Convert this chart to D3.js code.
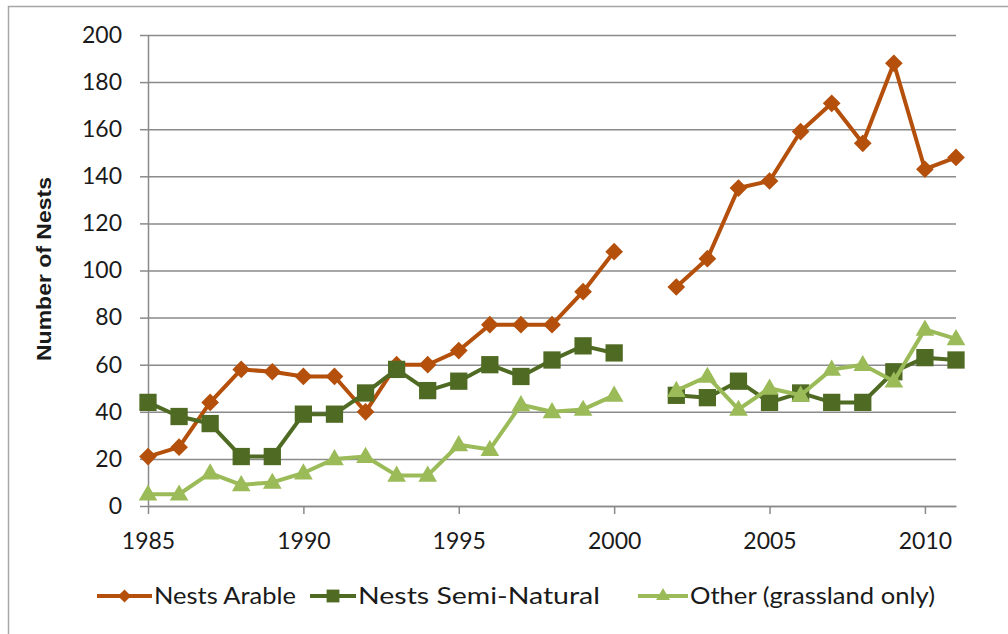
<!DOCTYPE html>
<html>
<head>
<meta charset="utf-8">
<script src="https://cdn.jsdelivr.net/npm/d3@7"></script>
<style>
  html, body { margin: 0; padding: 0; background: #fff; }
  svg { display: block; }
</style>
</head>
<body>
<svg id="chart" width="1008" height="634"></svg>
<script>
const years = [1985,1986,1987,1988,1989,1990,1991,1992,1993,1994,1995,1996,1997,1998,1999,2000,2001,2002,2003,2004,2005,2006,2007,2008,2009,2010,2011];
const nestsArable = [21,25,44,58,57,55,55,40,60,60,66,77,77,77,91,108,null,93,105,135,138,159,171,154,188,143,148];
const nestsSemiNatural = [44,38,35,21,21,39,39,48,58,49,53,60,55,62,68,65,null,47,46,53,44,48,44,44,57,63,62];
const otherGrassland = [5,5,14,9,10,14,20,21,13,13,26,24,43,40,41,47,null,49,55,41,50,47,58,60,53,75,71];
const seriesNames = ["Nests Arable", "Nests Semi-Natural", "Other (grassland only)"];
const yTicks = [0,20,40,60,80,100,120,140,160,180,200];
const xTicks = [1985,1990,1995,2000,2005,2010];
const yTitle = "Number of Nests";

const colors = ["#B4500B", "#4F6A23", "#9BBB59"];
const symbols = [d3.symbolDiamond2, d3.symbolSquare2, d3.symbolTriangle2];
const symSizes = [200, 380, 250];

const svg = d3.select("#chart");
const plotLeft = 148, plotRight = 956, plotTop = 35, plotBottom = 506;
const x = d3.scaleLinear().domain([1985, 2011]).range([plotLeft, plotRight]);
const y = d3.scaleLinear().domain([0, 200]).range([plotBottom, plotTop]);
const axisColor = "#8a8a8a";
const textFont = "Lato, 'Open Sans', sans-serif";

// outer frame
svg.append("rect").attr("x", 8.5).attr("y", 6.5).attr("width", 1010).attr("height", 640)
  .attr("fill", "#fff").attr("stroke", "#a6a6a6").attr("stroke-width", 1.5);

// gridlines
const grid = svg.append("g").attr("transform", `translate(${plotLeft},0)`)
  .call(d3.axisLeft(y).tickValues(yTicks).tickSize(-(plotRight - plotLeft)).tickFormat(""));
grid.select(".domain").remove();
grid.selectAll("line").attr("stroke", axisColor).attr("stroke-width", 1.5);

// y axis
const yAxis = svg.append("g").attr("transform", `translate(${plotLeft},0)`)
  .call(d3.axisLeft(y).tickValues(yTicks).tickSize(8).tickSizeOuter(0).tickPadding(18));
yAxis.select(".domain").attr("stroke", axisColor).attr("stroke-width", 1.5);
yAxis.selectAll("line").attr("stroke", axisColor).attr("stroke-width", 1.5);
yAxis.selectAll("text").attr("font-family", textFont).attr("font-size", 23).attr("fill", "#1a1a1a");

// x axis
const xAxis = svg.append("g").attr("transform", `translate(0,${plotBottom})`)
  .call(d3.axisBottom(x).tickValues(xTicks).tickSize(8).tickSizeOuter(0).tickPadding(19).tickFormat(d3.format("d")));
xAxis.select(".domain").attr("stroke", axisColor).attr("stroke-width", 1.5);
xAxis.selectAll("line").attr("stroke", axisColor).attr("stroke-width", 1.5);
xAxis.selectAll("text").attr("font-family", textFont).attr("font-size", 23).attr("fill", "#1a1a1a");

// y title
svg.append("text")
  .attr("transform", "translate(51,269) rotate(-90)")
  .attr("text-anchor", "middle")
  .attr("font-family", "'Liberation Sans', Arial, sans-serif")
  .attr("font-weight", "bold").attr("font-size", 21)
  .attr("textLength", 184).attr("lengthAdjust", "spacingAndGlyphs")
  .attr("fill", "#1a1a1a")
  .text(yTitle);

// series
const allSeries = [nestsArable, nestsSemiNatural, otherGrassland];
allSeries.forEach((vals, i) => {
  const pts = years.map((yr, k) => ({ yr, v: vals[k] }));
  const line = d3.line().defined(d => d.v !== null).x(d => x(d.yr)).y(d => y(d.v));
  const g = svg.append("g");
  g.append("path").datum(pts).attr("d", line)
    .attr("fill", "none").attr("stroke", colors[i]).attr("stroke-width", 4).attr("stroke-linejoin", "round");
  g.selectAll("path.m").data(pts.filter(d => d.v !== null)).join("path").attr("class", "m")
    .attr("transform", d => `translate(${x(d.yr)},${y(d.v) + (i === 2 ? 1 : 0)})`)
    .attr("d", d3.symbol().type(symbols[i]).size(symSizes[i]))
    .attr("fill", colors[i]);
});

// legend
const legendItems = [
  { lx: 97, tx: 154, tw: 142 },
  { lx: 310, tx: 358, tw: 242 },
  { lx: 638, tx: 690, tw: 245 }
];
const ly = 596;
legendItems.forEach((it, i) => {
  const g = svg.append("g");
  const lineEnd = it.tx - 2;
  g.append("line").attr("x1", it.lx).attr("x2", lineEnd).attr("y1", ly).attr("y2", ly)
    .attr("stroke", colors[i]).attr("stroke-width", 4);
  g.append("path").attr("transform", `translate(${(it.lx + lineEnd) / 2},${ly})`)
    .attr("d", d3.symbol().type(symbols[i]).size(symSizes[i] * 0.55)).attr("fill", colors[i]);
  g.append("text").attr("x", it.tx).attr("y", ly).attr("dy", "0.35em")
    .attr("font-family", textFont).attr("font-size", 24)
    .attr("textLength", it.tw).attr("lengthAdjust", "spacingAndGlyphs")
    .attr("fill", "#1a1a1a").text(seriesNames[i]);
});
</script>
</body>
</html>
